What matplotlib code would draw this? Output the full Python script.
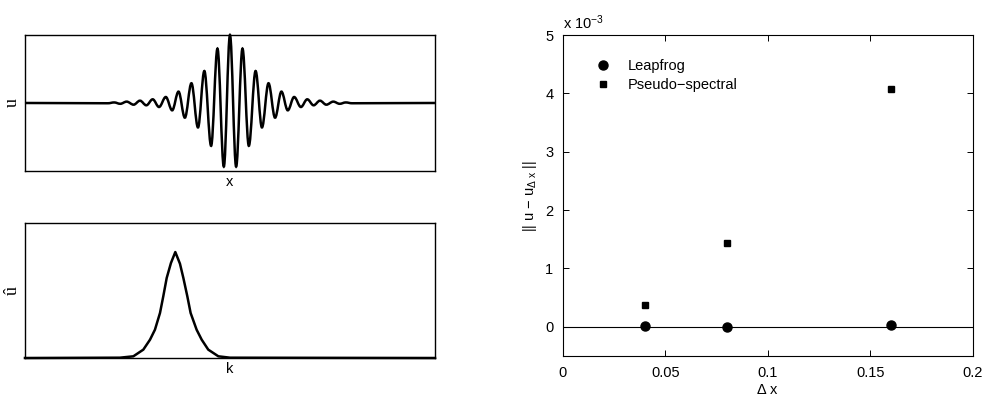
import matplotlib
matplotlib.use("Agg")
import matplotlib.pyplot as plt
from matplotlib.ticker import FuncFormatter
from matplotlib.path import Path
from matplotlib.patches import PathPatch

plt.rcParams['font.family'] = ['Liberation Sans', 'DejaVu Sans']
plt.rcParams['mathtext.fontset'] = 'custom'
plt.rcParams['mathtext.rm'] = 'Liberation Sans'
plt.rcParams['mathtext.it'] = 'Liberation Sans'
plt.rcParams['mathtext.default'] = 'rm'

# ---- wave packet u(x): extrema ----
x_pts = [-10.0, -5.95, -5.65, -5.35, -5.04, -4.70, -4.39, -4.08, -3.77, -3.46,
         -3.13, -2.82, -2.51, -2.20, -1.88, -1.56, -1.25, -0.92, -0.61, -0.30,
         0.0,
         0.30, 0.61, 0.92, 1.25, 1.56, 1.88, 2.20, 2.51, 2.82, 3.13,
         3.46, 3.77, 4.08, 4.39, 4.70, 5.04, 5.35, 5.65, 5.95, 10.0]
u_pts = [0.0, -0.004, 0.008, -0.012, 0.020, -0.025, 0.034, -0.034, 0.054, -0.059,
         0.088, -0.108, 0.167, -0.216, 0.29, -0.36, 0.47, -0.63, 0.80, -0.936,
         1.0,
         -0.936, 0.80, -0.63, 0.47, -0.36, 0.29, -0.216, 0.167, -0.108, 0.088,
         -0.059, 0.054, -0.034, 0.034, -0.025, 0.020, -0.012, 0.008, -0.004, 0.0]

# ---- spectrum u_hat(k) ----
k_pts = [0.0, 6.95, 7.93, 8.66, 9.15, 9.51, 9.88, 10.12, 10.37, 10.68, 11.0,
         11.34, 11.59, 11.88, 12.12, 12.56, 12.93, 13.41, 14.15, 15.0, 30.0]
uhat_pts = [0.0, 0.003, 0.016, 0.079, 0.173, 0.267, 0.425, 0.582, 0.755, 0.896, 1.0,
            0.89, 0.755, 0.582, 0.425, 0.267, 0.173, 0.079, 0.016, 0.003, 0.0]

# ---- error vs grid spacing ----
dx = [0.04, 0.08, 0.16]
err_leapfrog = [0.01e-3, 0.005e-3, 0.03e-3]
err_spectral = [0.37e-3, 1.43e-3, 4.08e-3]


def extrema_path(xs, ys):
    # smooth curve through the extrema, flat tangent at each one
    verts = [(xs[0], ys[0])]
    codes = [Path.MOVETO]
    for i in range(1, len(xs)):
        h = 0.36 * (xs[i] - xs[i - 1])
        verts += [(xs[i - 1] + h, ys[i - 1]), (xs[i] - h, ys[i]), (xs[i], ys[i])]
        codes += [Path.CURVE4] * 3
    return Path(verts, codes)


fig = plt.figure(figsize=(9.87, 3.98), dpi=100)

# top left: u(x)
ax1 = fig.add_axes([0.0253, 0.5704, 0.4154, 0.3417])
ax1.add_patch(PathPatch(extrema_path(x_pts, u_pts), fill=False, ec='black',
                        lw=1.8, clip_on=False))
ax1.set_xlim(-10, 10)
ax1.set_ylim(-1, 1)
ax1.set_xticks([])
ax1.set_yticks([])
ax1.set_xlabel('x', fontsize=10.5, labelpad=3)
ax1.set_ylabel('u', fontsize=13, family='Liberation Serif', labelpad=3)

# bottom left: u_hat(k)
ax2 = fig.add_axes([0.0253, 0.1005, 0.4154, 0.3392])
ax2.plot(k_pts, uhat_pts, color='black', lw=1.8, clip_on=False)
ax2.set_xlim(0, 30)
ax2.set_ylim(0, 1.274)
ax2.set_xticks([])
ax2.set_yticks([])
ax2.set_xlabel('k', fontsize=10.5, labelpad=3)
ax2.set_ylabel('û', fontsize=13, family='Liberation Serif', labelpad=3)

for a in (ax1, ax2):
    for s in a.spines.values():
        s.set_linewidth(1.0)

# right: error plot
ax3 = fig.add_axes([0.5704, 0.1055, 0.4154, 0.8065])
ax3.axhline(0, color='black', lw=0.8)
ax3.plot(dx, err_leapfrog, 'o', color='black', ms=6.5, label='Leapfrog')
ax3.plot(dx, err_spectral, 's', color='black', ms=5, label='Pseudo\u2212spectral')
ax3.set_xlim(0, 0.2)
ax3.set_ylim(-0.5e-3, 5e-3)
ax3.set_xticks([0, 0.05, 0.1, 0.15, 0.2])
ax3.set_xticklabels(['0', '0.05', '0.1', '0.15', '0.2'])
ax3.set_yticks([0, 1e-3, 2e-3, 3e-3, 4e-3, 5e-3])
ax3.yaxis.set_major_formatter(FuncFormatter(lambda v, p: f'{v * 1e3:g}'))
ax3.tick_params(direction='in', top=True, right=True, length=4, width=0.7,
                labelsize=10.5, pad=7)
for s in ax3.spines.values():
    s.set_linewidth(0.8)
ax3.set_xlabel(r'$\Delta$ x', fontsize=10.5, labelpad=2)
ax3.set_ylabel(r'|| u $-$ u$_{\Delta\ x}$ ||', fontsize=10.5, labelpad=4)
ax3.text(0.0, 1.01, r'x 10$^{-3}$', transform=ax3.transAxes, ha='left', va='bottom',
         fontsize=10.5)
ax3.legend(loc='upper left', bbox_to_anchor=(0.045, 0.965), frameon=False,
           fontsize=10.5, handlelength=1.2, handletextpad=1.1, labelspacing=0.3,
           numpoints=1)

fig.savefig('out.png', dpi=100)
